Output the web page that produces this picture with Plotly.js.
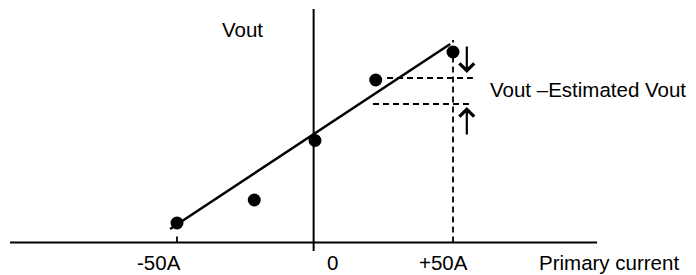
<!DOCTYPE html>
<html>
<head>
<meta charset="utf-8">
<script src="https://cdn.plot.ly/plotly-3.0.1.min.js"></script>
<style>html,body{margin:0;padding:0;background:#fff;}#chart{width:696px;height:275px;}</style>
</head>
<body>
<div id="chart"></div>
<script>
// Measured points (primary current in A, Vout in arbitrary units)
const currentA = [-50, -22, 0, 22, 50];
const voutMeasured = [1.95, 4.25, 10.2, 16.25, 19.05];
// Estimated (fitted) line endpoints
const fitCurrent = [-52.5, 49];
const fitVout = [1.35, 19.85];
// Tick labels on the current axis
const tickValues = [-50, 0, 50];
const tickLabels = ["-50A", "0", "+50A"];
// Error illustration levels
const measuredLevel = 16.45;
const estimatedLevel = 13.85;

const FONT = {family: "'Liberation Sans', Arial, sans-serif", size: 20.5, color: "#000"};
const dashStyle = {color: "#000", width: 1.8, dash: "6px,4px"};

const traces = [
  {x: fitCurrent, y: fitVout, mode: "lines", line: {color: "#000", width: 2.5}, hoverinfo: "skip"},
  {x: currentA, y: voutMeasured, mode: "markers", marker: {color: "#000", size: 13}, hoverinfo: "skip"}
];

const shapes = [
  // axes
  {type: "line", x0: -110.5, x1: 102.2, y0: 0, y1: 0, line: {color: "#000", width: 2}},
  {type: "line", x0: -0.5, x1: -0.5, y0: -0.85, y1: 23.35, line: {color: "#000", width: 2}},
  // dashed verticals at ±50A
  {type: "line", x0: tickValues[2], x1: tickValues[2], y0: 0, y1: 20.25, line: dashStyle},
  {type: "line", x0: tickValues[0], x1: tickValues[0], y0: 0, y1: 0.85, line: dashStyle},
  // dashed horizontals
  {type: "line", x0: 26.1, x1: 57.2, y0: measuredLevel, y1: measuredLevel, line: dashStyle},
  {type: "line", x0: 21, x1: 57.2, y0: estimatedLevel, y1: estimatedLevel, line: dashStyle}
];

const tickY = -3.25;
const annotations = [
  {x: -26.1, y: 21.3, text: "Vout", showarrow: false, xanchor: "center", yanchor: "middle"},
  {x: 62.7, y: 15.3, text: "Vout \u2013Estimated Vout", showarrow: false, xanchor: "left", yanchor: "middle"},
  {x: 55.0, y: 16.95, ax: 55.0, ay: 19.75, axref: "x", ayref: "y", text: "", showarrow: true,
   arrowhead: 4, arrowsize: 1.3, arrowwidth: 2.2, arrowcolor: "#000", standoff: 0},
  {x: 55.0, y: 13.55, ax: 55.0, ay: 10.65, axref: "x", ayref: "y", text: "", showarrow: true,
   arrowhead: 4, arrowsize: 1.3, arrowwidth: 2.2, arrowcolor: "#000", standoff: 0},
  {x: -56.5, y: tickY, text: tickLabels[0], showarrow: false, xanchor: "center", yanchor: "bottom", borderpad: 0},
  {x: 6.5, y: tickY, text: tickLabels[1], showarrow: false, xanchor: "center", yanchor: "bottom", borderpad: 0},
  {x: 46.4, y: tickY, text: tickLabels[2], showarrow: false, xanchor: "center", yanchor: "bottom", borderpad: 0},
  {x: 80.8, y: tickY, text: "Primary current", showarrow: false, xanchor: "left", yanchor: "bottom", borderpad: 0}
];

const layout = {
  width: 696, height: 275,
  margin: {l: 0, r: 0, t: 0, b: 0},
  paper_bgcolor: "#fff", plot_bgcolor: "#fff",
  showlegend: false,
  font: FONT,
  xaxis: {range: [-114.13, 138.04], visible: false, fixedrange: true},
  yaxis: {range: [-3.25, 24.25], visible: false, fixedrange: true},
  shapes: shapes,
  annotations: annotations
};

Plotly.newPlot("chart", traces, layout, {staticPlot: true, displayModeBar: false});
</script>
</body>
</html>
